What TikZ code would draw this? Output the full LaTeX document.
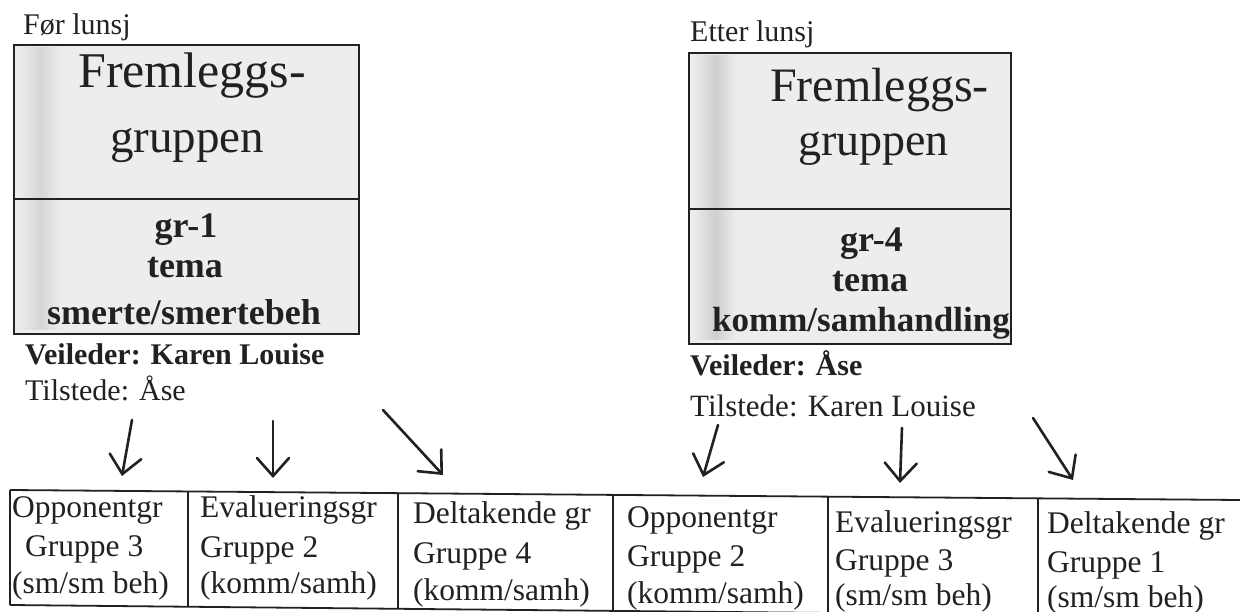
\documentclass[tikz,border=0pt]{standalone}
\usepackage{fontspec}
\setmainfont{Liberation Serif}
\usetikzlibrary{arrows.meta}
\definecolor{ink}{gray}{0.13}
\definecolor{paper}{gray}{0.93}
\begin{document}
\begin{tikzpicture}[x=1pt,y=-1pt,
  txt/.style={inner sep=0pt, text=ink, anchor=base west},
  big/.style={txt, font=\fontsize{48}{50}\selectfont},
  bld/.style={txt, font=\fontsize{36}{38}\selectfont\bfseries},
  lab/.style={txt, font=\fontsize{30}{32}\selectfont},
  labr/.style={txt, font=\fontsize{31}{33}\selectfont},
  cell/.style={txt, font=\fontsize{31.5}{34}\selectfont},
  boxline/.style={draw=ink, line width=2.4pt, inner sep=0pt, anchor=north west},
  tabline/.style={draw=ink, line width=1.8pt},
  arr/.style={draw=ink, line width=2.6pt, line cap=round,
    -{Straight Barb[length=18pt,width=32pt,line cap=round]}},
]
\useasboundingbox (0,0) rectangle (1240,612);
\clip (0,0) rectangle (1240,612);
\fill[white] (0,0) rectangle (1240,612);

% box backgrounds
\fill[paper] (13,44) rectangle (358,333);
\fill[paper] (688,52) rectangle (1010,343);
\shade[left color=paper, right color=paper, middle color=gray!32] (18,48) rectangle (62,330);
\shade[left color=paper, right color=paper, middle color=gray!38] (693,56) rectangle (737,340);

% headings
\node[lab] (fl) at (23,35) {Før lunsj};
\node[lab] (el) at (690,42) {Etter lunsj};

% left boxes
\node[boxline, minimum width=345pt, minimum height=154pt] (ltop) at (13,44) {};
\node[boxline, minimum width=345pt, minimum height=135pt] (lbot) at (13,198) {};
\node[big, font=\fontsize{50}{52}\selectfont] (lf1) at (78,88) {Fremleggs-};
\node[big, font=\fontsize{47}{49}\selectfont] (lf2) at (110,153) {gruppen};
\node[bld, anchor=base] (lg1) at (186,238) {gr-1};
\node[bld, anchor=base] (lg2) at (185,278) {tema};
\node[bld, anchor=base] (lg3) at (184,325) {smerte/smertebeh};
\node[lab, font=\fontsize{30}{32}\selectfont\bfseries] (lv) at (25,364) {Veileder: Karen Louise};
\node[lab] (lt) at (25,400) {Tilstede: Åse};

% right boxes
\node[boxline, minimum width=322pt, minimum height=156pt] (rtop) at (688,52) {};
\node[boxline, minimum width=322pt, minimum height=135pt] (rbot) at (688,208) {};
\node[big] (rf1) at (770,102) {Fremleggs-};
\node[big, font=\fontsize{46}{48}\selectfont] (rf2) at (798,156) {gruppen};
\node[bld] (rg1) at (840,252) {gr-4};
\node[bld] (rg2) at (832,292) {tema};
\node[bld, font=\fontsize{35}{37}\selectfont\bfseries] (rg3) at (712,332) {komm/samhandling};
\node[lab, font=\fontsize{30}{32}\selectfont\bfseries] (rv) at (690,375) {Veileder: Åse};
\node[labr] (rt) at (690,416) {Tilstede: Karen Louise};

% arrows
\coordinate (a1s) at (132,420); \coordinate (a1e) at (122,476);
\coordinate (a2s) at (273,421); \coordinate (a2e) at (273,478);
\coordinate (a3s) at (383,410); \coordinate (a3e) at (443,475);
\coordinate (a4s) at (718,425); \coordinate (a4e) at (703,477);
\coordinate (a5s) at (902,428); \coordinate (a5e) at (900,483);
\coordinate (a6s) at (1033,418); \coordinate (a6e) at (1073,480);
\draw[arr] (a1s) -- (a1e);
\draw[arr] (a2s) -- (a2e);
\draw[arr] (a3s) -- (a3e);
\draw[arr] (a4s) -- (a4e);
\draw[arr] (a5s) -- (a5e);
\draw[arr] (a6s) -- (a6e);

% table
\draw[tabline] (10,490) -- (1240,500);
\draw[tabline] (10,605) -- (1240,617);
\draw[tabline] (10,490) -- (10,605);
\draw[tabline] (188,491.4) -- (188,606.7);
\draw[tabline] (398,493.2) -- (398,608.8);
\draw[tabline] (613,494.9) -- (613,610.9);
\draw[tabline] (828,496.7) -- (828,613);
\draw[tabline] (1038,498.4) -- (1038,615);

\node[cell] (c1a) at (12,517) {Opponentgr};
\node[cell] (c1b) at (25,556) {Gruppe 3};
\node[cell] (c1c) at (12,593) {(sm/sm beh)};
\node[cell] (c2a) at (200,517) {Evalueringsgr};
\node[cell] (c2b) at (200,557) {Gruppe 2};
\node[cell] (c2c) at (200,593) {(komm/samh)};
\node[cell] (c3a) at (413,523) {Deltakende gr};
\node[cell] (c3b) at (413,563) {Gruppe 4};
\node[cell] (c3c) at (413,600) {(komm/samh)};
\node[cell] (c4a) at (627,527) {Opponentgr};
\node[cell] (c4b) at (627,566) {Gruppe 2};
\node[cell] (c4c) at (627,603) {(komm/samh)};
\node[cell] (c5a) at (835,532) {Evalueringsgr};
\node[cell] (c5b) at (835,570) {Gruppe 3};
\node[cell] (c5c) at (835,605) {(sm/sm beh)};
\node[cell] (c6a) at (1047,533) {Deltakende gr};
\node[cell] (c6b) at (1047,572) {Gruppe 1};
\node[cell] (c6c) at (1047,607) {(sm/sm beh)};
\end{tikzpicture}
\end{document}
